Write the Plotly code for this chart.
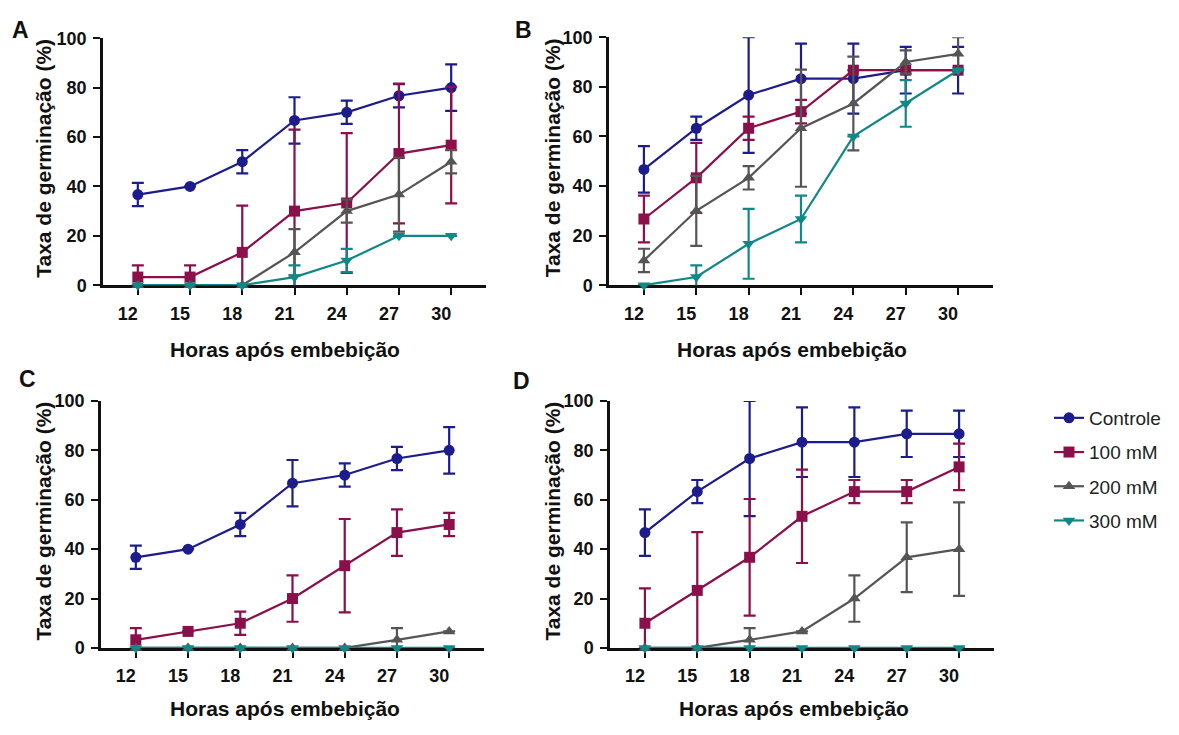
import plotly.graph_objects as go

# Germination over time for four salt treatments, four panels (A-D)
hours = [12, 15, 18, 21, 24, 27, 30]
hour_labels = ["12", "15", "18", "21", "24", "27", "30"]
y_ticks = [0, 20, 40, 60, 80, 100]
series_names = ["Controle", "100 mM", "200 mM", "300 mM"]

# Panel A
A_controle = [36.7, 40.0, 50.0, 66.7, 70.0, 76.7, 80.0]
A_controle_err = [4.7, 0, 4.7, 9.4, 4.7, 4.7, 9.4]
A_100 = [3.3, 3.3, 13.3, 30.0, 33.3, 53.3, 56.7]
A_100_err = [4.7, 4.7, 18.9, 33.0, 28.3, 28.3, 23.6]
A_200 = [0, 0, 0, 13.3, 30.0, 36.7, 50.0]
A_200_err = [0, 0, 0, 9.4, 4.7, 15.0, 4.7]
A_300 = [0, 0, 0, 3.3, 10.0, 20.0, 20.0]
A_300_err = [0, 0, 0, 4.7, 4.7, 0, 0]

# Panel B
B_controle = [46.7, 63.3, 76.7, 83.3, 83.3, 86.7, 86.7]
B_controle_err = [9.4, 4.7, 23.3, 14.1, 14.1, 9.4, 9.4]
B_100 = [26.7, 43.3, 63.3, 70.0, 86.7, 86.7, 86.7]
B_100_err = [9.4, 14.1, 4.7, 4.7, 0, 0, 0]
B_200 = [10.0, 30.0, 43.3, 63.3, 73.3, 90.0, 93.3]
B_200_err = [4.7, 14.1, 4.7, 23.6, 18.9, 4.7, 6.7]
B_300 = [0, 3.3, 16.7, 26.7, 60.0, 73.3, 86.7]
B_300_err = [0, 4.7, 14.1, 9.4, 0, 9.4, 0]

# Panel C
C_controle = [36.7, 40.0, 50.0, 66.7, 70.0, 76.7, 80.0]
C_controle_err = [4.7, 0, 4.7, 9.4, 4.7, 4.7, 9.4]
C_100 = [3.3, 6.7, 10.0, 20.0, 33.3, 46.7, 50.0]
C_100_err = [4.7, 0, 4.7, 9.4, 18.9, 9.4, 4.7]
C_200 = [0, 0, 0, 0, 0, 3.3, 6.7]
C_200_err = [0, 0, 0, 0, 0, 4.7, 0]
C_300 = [0, 0, 0, 0, 0, 0, 0]
C_300_err = [0, 0, 0, 0, 0, 0, 0]

# Panel D
D_controle = [46.7, 63.3, 76.7, 83.3, 83.3, 86.7, 86.7]
D_controle_err = [9.4, 4.7, 23.3, 14.1, 14.1, 9.4, 9.4]
D_100 = [10.0, 23.3, 36.7, 53.3, 63.3, 63.3, 73.3]
D_100_err = [14.1, 23.6, 23.6, 18.9, 4.7, 4.7, 9.4]
D_200 = [0, 0, 3.3, 6.7, 20.0, 36.7, 40.0]
D_200_err = [0, 0, 4.7, 0, 9.4, 14.1, 18.9]
D_300 = [0, 0, 0, 0, 0, 0, 0]
D_300_err = [0, 0, 0, 0, 0, 0, 0]

colors = ["#1c1c8c", "#8a0f4a", "#555555", "#118888"]
symbols = ["circle", "square", "triangle-up", "triangle-down"]

panels = [
    ("A", [A_controle, A_100, A_200, A_300], [A_controle_err, A_100_err, A_200_err, A_300_err]),
    ("B", [B_controle, B_100, B_200, B_300], [B_controle_err, B_100_err, B_200_err, B_300_err]),
    ("C", [C_controle, C_100, C_200, C_300], [C_controle_err, C_100_err, C_200_err, C_300_err]),
    ("D", [D_controle, D_100, D_200, D_300], [D_controle_err, D_100_err, D_200_err, D_300_err]),
]

# Figure kept a little smaller than the window so the page never overflows
W, H = 1171, 727


def px(x):
    return x / W


def py(y):
    return 1 - y / H


# plot-area boxes (left, right, top, bottom), in pixels
boxes = [
    (103, 486, 29, 283),
    (609, 993, 28, 283),
    (101, 484, 402, 656),
    (610, 994, 402, 656),
]
letter_pos = [(10, 21), (513, 21), (17, 379), (511, 381)]
ytitle_x = [44, 552, 44, 553]
xtitle_x = [285, 792, 285, 794]
xtitle_y = [349, 349, 718, 718]

FONT = "Liberation Sans, Arial, sans-serif"
INK = "#111111"

fig = go.Figure()
layout = dict(
    width=W, height=H,
    margin=dict(l=0, r=0, t=0, b=0),
    paper_bgcolor="white", plot_bgcolor="white",
    font=dict(family=FONT, color=INK),
    showlegend=True,
    legend=dict(
        x=px(1049), y=py(400), xanchor="left", yanchor="top",
        font=dict(family=FONT, size=19, color="#222222"),
        tracegroupgap=6.5, itemwidth=30, bgcolor="rgba(0,0,0,0)",
    ),
)

annotations = []
for i, (letter, values, errors) in enumerate(panels):
    n = "" if i == 0 else str(i + 1)
    xa, ya = "x" + n, "y" + n
    left, right, top, bottom = boxes[i]
    layout["xaxis" + n] = dict(
        domain=[px(left), px(right)], anchor=ya, range=[10, 32],
        tickmode="array", tickvals=hours, ticktext=hour_labels,
        ticks="outside", ticklen=7, tickwidth=2, tickcolor=INK,
        showline=True, linewidth=2.5, linecolor=INK,
        showgrid=False, zeroline=False, layer="below traces",
        tickfont=dict(family=FONT, size=18, weight="bold", color=INK),
        ticklabelshift=-10, ticklabelstandoff=3,
    )
    layout["yaxis" + n] = dict(
        domain=[py(bottom), py(top)], anchor=xa, range=[0, 100],
        tickmode="array", tickvals=y_ticks,
        ticks="outside", ticklen=7, tickwidth=2, tickcolor=INK,
        showline=True, linewidth=2.5, linecolor=INK,
        showgrid=False, zeroline=False, layer="below traces",
        tickfont=dict(family=FONT, size=18, weight="bold", color=INK),
        ticklabelstandoff=3,
    )
    for k in range(4):
        fig.add_trace(go.Scatter(
            x=hours, y=values[k], name=series_names[k],
            mode="lines+markers", xaxis=xa, yaxis=ya,
            legendgroup=series_names[k], showlegend=(i == 0),
            line=dict(color=colors[k], width=2.2),
            marker=dict(color=colors[k], symbol=symbols[k], size=11),
            error_y=dict(type="data", array=errors[k], visible=True,
                         color=colors[k], thickness=2.2, width=6),
            cliponaxis=False,
        ))

    lx, ly = letter_pos[i]
    annotations.append(dict(
        text=letter, x=px(lx), y=py(ly), xref="paper", yref="paper",
        xanchor="left", yanchor="middle", showarrow=False,
        font=dict(family=FONT, size=23, weight="bold", color=INK),
    ))
    annotations.append(dict(
        text="Taxa de germinação (%)", x=px(ytitle_x[i]),
        y=py((top + bottom) / 2 - 3), xref="paper", yref="paper",
        xanchor="center", yanchor="middle", textangle=-90, showarrow=False,
        font=dict(family=FONT, size=21, weight="bold", color=INK),
    ))
    annotations.append(dict(
        text="Horas após embebição", x=px(xtitle_x[i]),
        y=py(xtitle_y[i]), xref="paper", yref="paper",
        xanchor="center", yanchor="middle", showarrow=False,
        font=dict(family=FONT, size=21, weight="bold", color=INK),
    ))

layout["annotations"] = annotations
fig.update_layout(**layout)
fig.write_html("out.html")
